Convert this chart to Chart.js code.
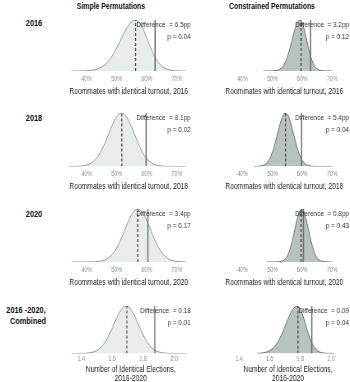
<!DOCTYPE html>
<html>
<head>
<meta charset="utf-8">
<script src="https://cdn.jsdelivr.net/npm/chart.js@4.4.1/dist/chart.umd.min.js"></script>
<style>
  html, body { margin: 0; padding: 0; background: #fff; }
  body {
    width: 350px; height: 382px; position: relative; overflow: hidden;
    font-family: 'Liberation Sans', Arial, sans-serif;
  }
  .lbl { position: absolute; font-weight: bold; color: #111; white-space: nowrap; line-height: 1; }
  .head { font-size: 8.8px; transform: translate(-50%, -50%) scaleX(0.78); }
  .row { font-size: 9px; transform: translate(-50%, -50%) scaleX(0.82); }
  .panel { position: absolute; transform-origin: 0 0; }
</style>
</head>
<body>
<div class="lbl head" style="left:111px; top:6px;">Simple Permutations</div>
<div class="lbl head" style="left:272px; top:6px;">Constrained Permutations</div>
<div class="lbl row" style="left:33.5px; top:23px;">2016</div>
<div class="lbl row" style="left:33.5px; top:118px;">2018</div>
<div class="lbl row" style="left:33.5px; top:214px;">2020</div>
<div class="lbl row" style="left:26px; top:310px;">2016 -2020,</div>
<div class="lbl row" style="left:27.5px; top:321px;">Combined</div>

<script>
// --- Data ---
const pctGrid = [33,34,35,36,37,38,39,40,41,42,43,44,45,46,47,48,49,50,51,52,53,54,55,56,57,58,59,60,61,62,63,64,65,66,67,68,69,70,71,72,73,74,75];
const cntGrid = [1.32,1.34,1.36,1.38,1.40,1.42,1.44,1.46,1.48,1.50,1.52,1.54,1.56,1.58,1.60,1.62,1.64,1.66,1.68,1.70,1.72,1.74,1.76,1.78,1.80,1.82,1.84,1.86,1.88,1.90,1.92,1.94,1.96,1.98,2.00,2.02,2.04,2.06,2.08,2.10,2.12];

const pctTicks = [40, 50, 60, 70];
const cntTicks = [1.4, 1.6, 1.8, 2.0];

// density heights (peak = 100)
const simple2016 = [null,null,0,0,0,0.1,0.2,0.5,0.9,1.7,2.9,4.9,7.8,12,17.7,25.2,34.4,45.2,57,69.1,80.4,90,96.7,99.8,98.5,91.4,79.6,65.2,50.1,36.2,24.6,15.7,9.4,5.3,2.8,1.4,0.6,0.3,0.1,0,0,null,null];
const constr2016 = [null,null,null,null,null,null,null,null,null,null,null,null,null,null,0,0,0.1,0.2,0.7,2.2,5.8,13.5,27.1,46.9,69.9,89.9,99.7,94.1,73.6,47.7,25.5,11.3,4.2,1.3,0.3,0.1,0,0,null,null,null,null,null];
const simple2018 = [null,0,0.1,0.1,0.3,0.7,1.4,2.6,4.8,8.3,13.5,21,30.8,42.8,56.4,70.4,83.3,93.3,99,99.6,94.8,85.6,73.2,59.2,45.5,33,22.7,14.8,9.2,5.4,3,1.6,0.8,0.4,0.2,0.1,0,0,0,0,0,null,null];
const constr2018 = [null,null,null,null,null,null,null,null,null,null,null,0.1,0.2,0.8,2.4,6,13.5,26.5,45,67.4,87.4,99,97.6,83.9,63,41.1,23.4,11.6,5,1.9,0.6,0.2,0.1,0,0,0,0,0,null,null,null,null,null];
const simple2020 = [null,null,0,0,0,0,0,0,0.1,0.2,0.5,1,2,3.8,6.7,11.2,17.7,26.6,37.8,50.9,64.9,78.4,89.7,97.3,100,97.3,89.7,78.4,64.9,50.9,37.8,26.6,17.7,11.2,6.7,3.8,2,1,0.5,0.2,0.1,null,null];
const constr2020 = [null,null,null,null,null,null,null,null,null,null,null,null,null,null,null,0,0,0.1,0.1,0.3,1.3,4.2,11.3,25.6,47.7,73.7,94.1,99.6,87.3,63.3,38,18.9,7.8,2.6,0.8,0.2,0.1,0,null,null,null,null,null];
const simpleAll = [null,0,0,0,0.1,0.3,0.8,1.6,3.2,6,10.5,17.2,26.7,38.9,53.1,68.2,82.3,93.2,99.2,99.2,93.2,82.3,68.2,53.1,38.9,26.7,17.2,10.5,6,3.2,1.6,0.8,0.3,0.1,0,0,0,0,0,null,null];
const constrAll = [null,null,null,null,null,null,null,null,null,null,0.2,0.6,1.4,2.9,5.6,10.3,17.5,27.8,41.1,56.6,72.6,86.7,96.5,100,93.6,76.8,55.2,34.7,19.1,9.3,3.9,1.5,0.5,0.1,0.1,0,null,null,null,null,null];

const observed = [62.8, 59.8, 60.4, 1.875];
const simpleNull = [56.3, 51.7, 57.0, 1.695];
const constrNull = [59.6, 54.4, 59.6, 1.785];
const simpleDiff = ['6.5pp', '8.1pp', '3.4pp', '0.18'];
const simpleP = ['0.04', '0.02', '0.17', '0.01'];
const constrDiff = ['3.2pp', '5.4pp', '0.8pp', '0.09'];
const constrP = ['0.12', '0.04', '0.43', '0.04'];
const axisTitles = [
    'Roommates with identical turnout, 2016',
    'Roommates with identical turnout, 2018',
    'Roommates with identical turnout, 2020',
    ['Number of Identical Elections,', '2016-2020']
];

// --- Layout ---
const FONT = "'Liberation Sans', Arial, sans-serif";
Chart.defaults.font.family = FONT;

const SQ = 0.82; // horizontal squeeze, gives the narrow lettering of the original
const rowBase = [74.5, 170.5, 265.5, 355];
const rowHeight = [55, 57.5, 57, 49.5];
const tickPad = [4, 4, 4, 2];
const padTop = 4;

// Difference / p text
const notePlugin = {
    id: 'note',
    afterDraw(chart, args, opts) {
        const { ctx, chartArea } = chart;
        ctx.save();
        ctx.font = '7.8px ' + FONT;
        ctx.fillStyle = '#333';
        ctx.textAlign = 'right';
        ctx.textBaseline = 'middle';
        ctx.fillText('Difference  = ' + opts.diff, opts.right, chartArea.top + 4.5);
        ctx.fillText('p = ' + opts.p, opts.right, chartArea.top + 16.5);
        ctx.restore();
    }
};

function makePanel(r, c) {
    const isCount = r === 3;
    const grid = isCount ? cntGrid : pctGrid;
    const curves = c === 0
        ? [simple2016, simple2018, simple2020, simpleAll]
        : [constr2016, constr2018, constr2020, constrAll];
    const ys = curves[r];
    const nullX = c === 0 ? simpleNull[r] : constrNull[r];

    // chart area geometry (page px)
    let chartLeft, chartW, canvasW;
    if (!isCount) {
        chartLeft = c === 0 ? 65 : 221; chartW = 126; canvasW = c === 0 ? 130 : 129;
    } else {
        chartLeft = c === 0 ? 68 : 226; chartW = 124; canvasW = c === 0 ? 126 : 124;
    }
    const textRight = ((c === 0 ? 190 : 349) - chartLeft) / SQ;
    const lines = Array.isArray(axisTitles[r]) ? axisTitles[r].length : 1;
    const axisH = tickPad[r] + 7.8 + 9 * lines;
    const H = rowHeight[r];
    const top = rowBase[r] - H - padTop;
    const canvasH = padTop + H + axisH + 1;

    const div = document.createElement('div');
    div.className = 'panel';
    div.style.left = chartLeft + 'px';
    div.style.top = top + 'px';
    div.style.width = (canvasW / SQ) + 'px';
    div.style.height = canvasH + 'px';
    div.style.transform = 'scaleX(' + SQ + ')';
    const cv = document.createElement('canvas');
    div.appendChild(cv);
    document.body.appendChild(div);

    const pts = grid.map((x, i) => ({ x: x, y: ys[i] }));

    new Chart(cv, {
        type: 'line',
        data: {
            datasets: [{
                data: [{ x: observed[r], y: 0 }, { x: observed[r], y: 100 }],
                borderColor: '#6d6d6d',
                borderWidth: 1.5,
                pointRadius: 0,
                fill: false,
                order: 0
            }, {
                data: [{ x: nullX, y: 0 }, { x: nullX, y: 100 }],
                borderColor: '#3a3a3a',
                borderWidth: 1.2,
                borderDash: [3, 2],
                pointRadius: 0,
                fill: false,
                order: 1
            }, {
                data: pts,
                borderColor: c === 0 ? '#8a8a8a' : '#5f6866',
                backgroundColor: c === 0 ? '#e9ecec' : '#b8c3c0',
                borderWidth: 0.9,
                pointRadius: 0,
                fill: 'origin',
                cubicInterpolationMode: 'monotone',
                order: 2
            }]
        },
        options: {
            animation: false,
            responsive: true,
            maintainAspectRatio: false,
            layout: { padding: { top: padTop, right: (canvasW - chartW) / SQ, bottom: 1, left: 0 } },
            plugins: {
                legend: { display: false },
                tooltip: { enabled: false },
                note: {
                    diff: c === 0 ? simpleDiff[r] : constrDiff[r],
                    p: c === 0 ? simpleP[r] : constrP[r],
                    right: textRight
                }
            },
            scales: {
                x: {
                    type: 'linear',
                    min: grid[0],
                    max: grid[grid.length - 1],
                    grid: { display: false, drawTicks: false },
                    border: { display: false },
                    afterBuildTicks: s => { s.ticks = (isCount ? cntTicks : pctTicks).map(v => ({ value: v })); },
                    ticks: {
                        color: '#888',
                        font: { size: 6.5, lineHeight: 1.2 },
                        padding: tickPad[r],
                        autoSkip: false,
                        maxRotation: 0,
                        callback: v => isCount ? v.toFixed(1) : v + '%'
                    },
                    title: {
                        display: true,
                        text: axisTitles[r],
                        color: '#222',
                        font: { size: 8.2, lineHeight: 1.1 },
                        padding: { top: 0, bottom: 0 }
                    }
                },
                y: { display: false, min: 0, max: 100 }
            }
        },
        plugins: [notePlugin]
    });
}

for (let r = 0; r < 4; r++) {
    makePanel(r, 0);
    makePanel(r, 1);
}
</script>
</body>
</html>
